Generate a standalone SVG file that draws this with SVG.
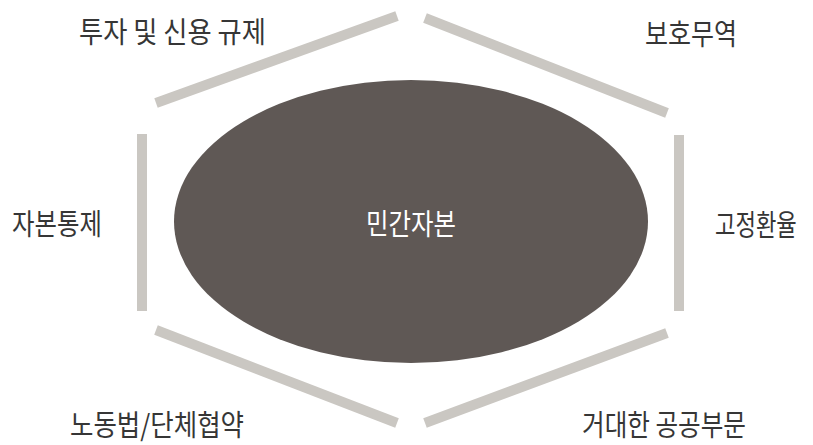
<svg xmlns="http://www.w3.org/2000/svg" width="813" height="445" viewBox="0 0 813 445">
  <style>
    .bar { stroke: #cac7c2; stroke-width: 10; stroke-linecap: butt; fill: none; }
    .lbl { font-family: "Noto Sans CJK KR", "Noto Sans", sans-serif; font-size: 29px; font-weight: 400; fill: #363636; }
    .core { font-family: "Noto Sans CJK KR", "Noto Sans", sans-serif; font-size: 29px; font-weight: 400; fill: #ffffff; }
  </style>
  <rect width="813" height="445" fill="#ffffff"/>
  <g id="connectors">
    <line class="bar" x1="156" y1="103" x2="397" y2="16"/>
    <line class="bar" x1="425" y1="18" x2="667" y2="113"/>
    <line class="bar" x1="679" y1="135" x2="679" y2="311"/>
    <line class="bar" x1="425" y1="423" x2="667" y2="333"/>
    <line class="bar" x1="156" y1="330" x2="397" y2="423"/>
    <line class="bar" x1="142" y1="134" x2="142" y2="311"/>
  </g>
  <g id="node-core">
    <ellipse cx="411" cy="221.5" rx="237" ry="141.5" fill="#5f5855"/>
    <text class="core" x="366" y="235" textLength="90" lengthAdjust="spacingAndGlyphs">민간자본</text>
  </g>
  <g id="node-investment">
    <text class="lbl" x="79" y="43" textLength="187" lengthAdjust="spacingAndGlyphs">투자 및 신용 규제</text>
  </g>
  <g id="node-protection">
    <text class="lbl" x="645" y="45" textLength="92" lengthAdjust="spacingAndGlyphs">보호무역</text>
  </g>
  <g id="node-capital-control">
    <text class="lbl" x="12" y="235" textLength="90" lengthAdjust="spacingAndGlyphs">자본통제</text>
  </g>
  <g id="node-fixed-rate">
    <text class="lbl" transform="translate(715,236) scale(0.767,1)" x="0" y="0">고정환율</text>
  </g>
  <g id="node-labor">
    <text class="lbl" x="70" y="436" textLength="174" lengthAdjust="spacingAndGlyphs">노동법/단체협약</text>
  </g>
  <g id="node-public">
    <text class="lbl" x="582" y="436" textLength="164" lengthAdjust="spacingAndGlyphs">거대한 공공부문</text>
  </g>
</svg>
